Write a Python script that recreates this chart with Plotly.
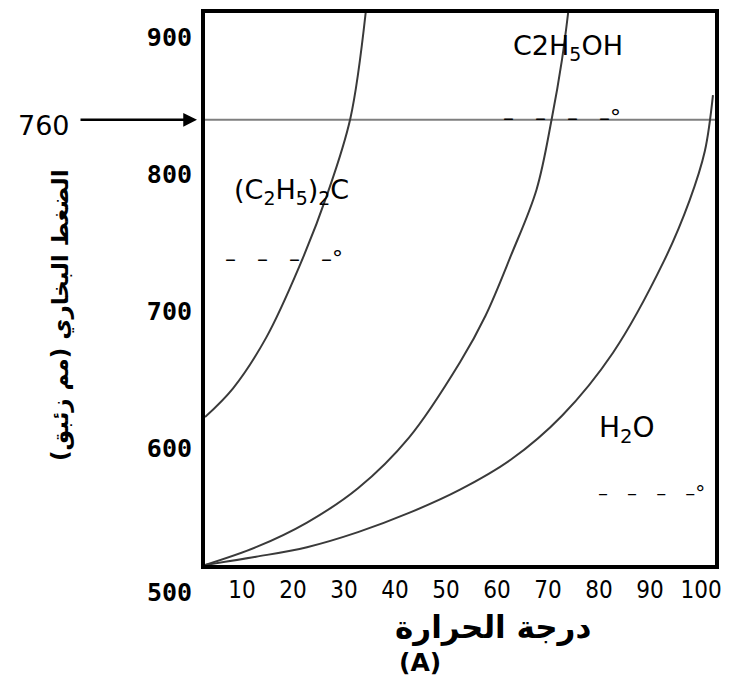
import plotly.graph_objects as go

# ---- data (temperature °C, vapour pressure on the drawn scale) ----
ether_t = [0, 5.5, 12, 18.5, 24, 28.5, 31.5]
ether_p = [623, 644, 681, 733, 786, 841, 918]

ethanol_t = [0, 10, 20, 30, 40, 50, 55, 60, 65, 68, 70, 71.2]
ethanol_p = [515, 528, 546, 571, 608, 663, 697, 741, 789, 841, 884, 918]

water_t = [0, 10, 20, 30, 40, 50, 60, 70, 80, 90, 95, 98, 99.6]
water_p = [515, 521, 528, 539, 553, 570, 592, 624, 670, 737, 781, 817, 858]

ref_t = [0, 100]
ref_p = [840, 840]
ref_label = "760"

x_ticks = [10, 20, 30, 40, 50, 60, 70, 80, 90, 100]
x_ticktext = ["10", "20", "30", "40", "50", "60", "70", "80", "90", "100"]
y_ticks = [600, 700, 800, 900]
y_ticktext = ["600", "700", "800", "900"]
origin_label = "500"

x_title = "درجة الحرارة"
y_title = "الضغط البخاري (مم زئبق)\u200f"
caption = "(A)"
dash_text = "–   –   –   –°"

curve_color = "#3a3a3a"

# page body has an 8px margin: figure is sized so that it ends at the window edge
W, H = 723, 671
ML, MT, MR, MB = 197, 5, 16, 114
PW, PH = W - ML - MR, H - MT - MB  # plot area size in px


def px_x(px):
    """page pixel x -> paper coordinate"""
    return (px - 8 - ML) / PW


def px_y(py):
    """page pixel y -> paper coordinate"""
    return (H - MB - (py - 8)) / PH


fig = go.Figure()
fig.add_trace(go.Scatter(x=ref_t, y=ref_p, mode="lines",
                         line=dict(color="#7f7f7f", width=2), showlegend=False))
for t, p in [(ether_t, ether_p), (ethanol_t, ethanol_p), (water_t, water_p)]:
    fig.add_trace(go.Scatter(x=t, y=p, mode="lines",
                             line=dict(color=curve_color, width=2, shape="spline", smoothing=1.0),
                             showlegend=False))

annotations = [
    dict(x=71.2, y=893, xref="x", yref="y", text="C2H<sub>5</sub>OH", showarrow=False,
         font=dict(family="DejaVu Sans", size=27, color="black")),
    dict(x=70.0, y=843, xref="x", yref="y", text=dash_text, showarrow=False,
         font=dict(family="DejaVu Sans", size=22, color="black"), yshift=-2),
    dict(x=16.9, y=788, xref="x", yref="y", text="(C<sub>2</sub>H<sub>5</sub>)<sub>2</sub>C",
         showarrow=False, font=dict(family="DejaVu Sans", size=27, color="black")),
    dict(x=15.5, y=738, xref="x", yref="y", text=dash_text, showarrow=False,
         font=dict(family="DejaVu Sans", size=22, color="black"), yshift=1),
    dict(x=82.7, y=614, xref="x", yref="y", text="H<sub>2</sub>O", showarrow=False,
         font=dict(family="DejaVu Sans", size=28, color="black")),
    dict(x=87.5, y=568, xref="x", yref="y", text=dash_text, showarrow=False,
         font=dict(family="DejaVu Sans", size=20, color="black"), yshift=-1),
    # arrow pointing at the reference line
    dict(x=0, y=ref_p[0], xref="x", yref="y", text="", showarrow=True, ax=-126, ay=0,
         arrowhead=2, arrowsize=1.1, arrowwidth=2.5, arrowcolor="black", standoff=8),
    dict(x=px_x(44), y=ref_p[0], xref="paper", yref="y", text=ref_label, showarrow=False,
         xanchor="center", yanchor="middle", yshift=-6,
         font=dict(family="DejaVu Sans", size=27, color="black")),
    dict(x=px_x(194), y=px_y(592), xref="paper", yref="paper", text=origin_label, showarrow=False,
         xanchor="right", yanchor="middle",
         font=dict(family="DejaVu Sans Mono", size=25, color="black", weight="bold")),
    dict(x=px_x(493), y=px_y(627), xref="paper", yref="paper", text=x_title, showarrow=False,
         xanchor="center", yanchor="middle",
         font=dict(family="DejaVu Sans", size=31, color="black", weight="bold")),
    dict(x=px_x(420), y=px_y(662), xref="paper", yref="paper", text=caption, showarrow=False,
         xanchor="center", yanchor="middle",
         font=dict(family="DejaVu Sans", size=25, color="black", weight="bold")),
    dict(x=px_x(60), y=px_y(315), xref="paper", yref="paper", text=y_title,
         showarrow=False, textangle=-90, xanchor="center", yanchor="middle",
         font=dict(family="DejaVu Sans", size=23, color="black", weight="bold")),
]

fig.update_layout(
    width=W, height=H,
    margin=dict(l=ML, r=MR, t=MT, b=MB, autoexpand=False),
    paper_bgcolor="white", plot_bgcolor="white",
    annotations=annotations,
    xaxis=dict(range=[0, 100], showgrid=False, zeroline=False, showline=True, mirror=True,
               automargin=False,
               linecolor="black", linewidth=4, ticks="", tickvals=x_ticks, ticktext=x_ticktext,
               ticklabelstandoff=0, ticklabelshift=-14,
               tickfont=dict(family="Liberation Sans Narrow, DejaVu Sans Condensed, Arial Narrow, sans-serif",
                             size=24, color="black")),
    yaxis=dict(range=[515, 918], showgrid=False, zeroline=False, showline=True, mirror=True,
               automargin=False,
               linecolor="black", linewidth=4, ticks="", tickvals=y_ticks, ticktext=y_ticktext,
               ticklabelstandoff=4,
               tickfont=dict(family="DejaVu Sans Mono", size=25, color="black", weight="bold")),
)

fig.write_html("out.html")
